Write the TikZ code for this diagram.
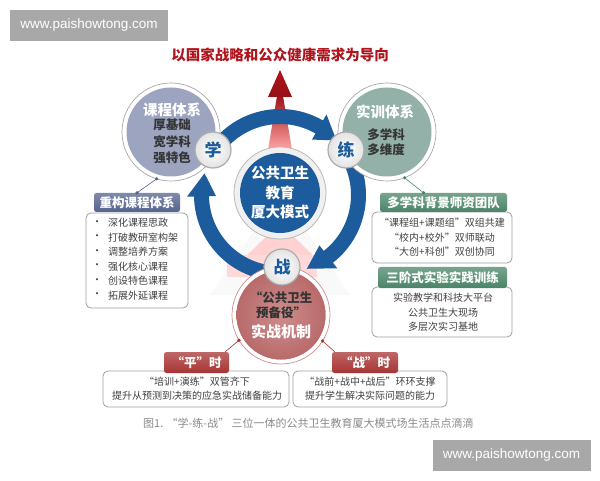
\documentclass[tikz,border=0pt]{standalone}
\usepackage{fontspec}
\setmainfont{Noto Sans CJK SC}
\newfontfamily\wmfont{Liberation Sans}
\definecolor{ringblue}{HTML}{1D5C9C}
\definecolor{titlered}{HTML}{B0141C}
\definecolor{kcfill}{HTML}{9CA4BF}
\definecolor{sxfill}{HTML}{93B1A8}
\definecolor{szfill}{HTML}{C27070}
\definecolor{txtgray}{HTML}{404040}
\definecolor{darktxt}{HTML}{353535}
\definecolor{wmgray}{HTML}{A8A8A8}
\definecolor{capgray}{HTML}{8A8A8A}
\definecolor{tabblue}{HTML}{55648E}
\definecolor{tabgreen}{HTML}{4A8568}
\definecolor{tabred}{HTML}{A83434}
\tikzset{
  wmbox/.style={fill=wmgray, text=white, font=\wmfont\fontsize{13.5}{14}\selectfont, minimum width=158pt, minimum height=31pt, inner sep=0pt},
  outerring/.style={circle, fill=white, draw=#1, line width=0.7pt, minimum size=98pt, inner sep=0pt, outer sep=0pt},
  innerdisc/.style={circle, fill=#1, minimum size=89pt, inner sep=0pt},
  badge/.style={circle, draw=gray!65, line width=1.2pt, inner color=white, outer color=gray!22, minimum size=36pt, inner sep=0pt, text=ringblue, font=\fontsize{17}{17}\selectfont\bfseries},
  wtitle/.style={text=white, font=\fontsize{14.5}{15}\selectfont\bfseries, inner sep=0pt},
  dtxt/.style={text=darktxt, font=\fontsize{12.5}{13}\selectfont\bfseries, inner sep=0pt},
  ctxt/.style={text=white, font=\fontsize{14.5}{15}\selectfont\bfseries, inner sep=0pt},
  tab/.style={rounded corners=2.5pt, top color=#1!75, bottom color=#1, text=white, font=\fontsize{12.5}{13}\selectfont\bfseries, inner sep=0pt},
  cbox/.style={draw=gray!75, line width=0.8pt, rounded corners=5pt, fill=white, inner sep=0pt},
  itm/.style={text=txtgray, font=\fontsize{10}{11}\selectfont, inner sep=0pt},
  dotline/.style={line width=0.6pt, draw=#1},
  tdot/.style={fill=#1},
}
\begin{document}
\begin{tikzpicture}[x=1pt,y=1pt]
\useasboundingbox (0,0) rectangle (600,480);
\fill[white] (0,0) rectangle (600,480);

% watermarks
\node[wmbox] (wm1) at (89,454.5) {www.paishowtong.com};
\node[wmbox] (wm2) at (511.5,25) {www.paishowtong.com};

% title
\node[text=titlered, font=\fontsize{14.5}{15}\selectfont\bfseries, inner sep=0pt] (title) at (280,425) {以国家战略和公众健康需求为导向};

% faint backdrop shapes
\fill[gray!5] (280,287) -- (210,185) -- (350,185) -- cycle;
\fill[red!18!white] (268,245) -- (292,245) -- (320,218) -- (240,218) -- cycle;
\fill[red!15!white] (227,203) rectangle (317,225);

% red arrow
\shade[top color=titlered!90!black, bottom color=red!35!white] (277,384) -- (283,384) -- (292,330) -- (268,330) -- cycle;
\shade[top color=titlered, bottom color=titlered!85!black] (280,410) -- (292,383) -- (268,383) -- cycle;

% blue ring with arrowheads
\begin{scope}[shift={(280,285)}]
\fill[ringblue] (145:86) arc[start angle=145,end angle=60,radius=86] -- (60:93) -- (44:78.5) -- (60:64) -- (60:71) arc[start angle=60,end angle=145,radius=71] -- cycle;
\fill[ringblue] (32:86) arc[start angle=32,end angle=-52,radius=86] -- (-52:93) -- (-70:78.5) -- (-52:64) -- (-52:71) arc[start angle=-52,end angle=32,radius=71] -- cycle;
\fill[ringblue] (268:86) arc[start angle=268,end angle=181,radius=86] -- (181:93) -- (164:78.5) -- (181:64) -- (181:71) arc[start angle=181,end angle=268,radius=71] -- cycle;
\end{scope}

% big circles
\node[outerring=gray!70] (kc) at (171,348) {};
\node[innerdisc=kcfill] (kcin) at (kc) {};
\node[wtitle] (kct) at (172,370) {课程体系};
\node[dtxt] (kc1) at (172,355) {厚基础};
\node[dtxt] (kc2) at (172,338.5) {宽学科};
\node[dtxt] (kc3) at (172,322) {强特色};

\node[outerring=gray!70] (sx) at (387,348) {};
\node[innerdisc=sxfill] (sxin) at (sx) {};
\node[wtitle] (sxt) at (385,368) {实训体系};
\node[dtxt] (sx1) at (386,345) {多学科};
\node[dtxt] (sx2) at (386,330) {多维度};

\node[outerring=szfill!80] (sz) at (281,165) {};
\node[innerdisc=szfill, inner color=szfill!80, outer color=szfill!95!black] (szin) at (sz) {};
\node[dtxt, text=black!80] (sz1) at (281,182) {“公共卫生};
\node[dtxt, text=black!80] (sz2) at (281,167) {预备役”};
\node[wtitle, font=\fontsize{15}{15}\selectfont\bfseries] (sz3) at (281,148) {实战机制};

% centre
\node[circle, fill=gray!12, draw=gray!55, line width=0.8pt, minimum size=92pt, inner sep=0pt] (cen) at (280,287) {};
\node[circle, fill=ringblue, minimum size=80pt, inner sep=0pt] (cenin) at (cen) {};
\node[ctxt] (c1) at (280,307) {公共卫生};
\node[ctxt] (c2) at (280,287.5) {教育};
\node[ctxt] (c3) at (280,268) {厦大模式};

% badges
\node[badge] (xue) at (213,330) {学};
\node[badge] (lian) at (346,330) {练};
\node[badge] (zhan) at (282,213) {战};

% left box
\node[cbox, minimum width=102pt, minimum height=95pt] (lb) at (137,219.5) {};
\node[tab=tabblue, minimum width=86pt, minimum height=19pt] (lt) at (137,277.5) {重构课程体系};
\foreach \t [count=\i] in {深化课程思政,打破教研室构架,调整培养方案,强化核心课程,创设特色课程,拓展外延课程}{
  \node[itm] (lbb\i) at (97,{257-14.5*(\i-1)}) {•};
  \node[itm, anchor=west] (lbi\i) at (108,{257-14.5*(\i-1)}) {\t};
}
\fill[tdot=tabblue] (kc.253) circle (1.8) (lt.north) circle (1.8);
\draw[dotline=tabblue] (kc.253) -- (lt.north);

% right boxes
\node[cbox, minimum width=140pt, minimum height=51pt] (rb1) at (442,242.5) {};
\node[tab=tabgreen, minimum width=127pt, minimum height=19pt] (rt1) at (443.5,277.5) {多学科背景师资团队};
\node[itm] (r11) at (442,257) {“课程组+课题组”双组共建};
\node[itm] (r12) at (442,242) {“校内+校外”双师联动};
\node[itm] (r13) at (442,228) {“大创+科创”双创协同};
\coordinate (rt1top) at ([xshift=-20pt]rt1.north);
\fill[tdot=tabgreen] (sx.291) circle (1.8) (rt1top) circle (1.8);
\draw[dotline=tabgreen] (sx.291) -- (rt1top);

\node[cbox, minimum width=140pt, minimum height=50pt] (rb2) at (442,168) {};
\node[tab=tabgreen, minimum width=129pt, minimum height=21pt] (rt2) at (442.5,202.5) {三阶式实验实践训练};
\node[itm] (r21) at (443,182) {实验教学和科技大平台};
\node[itm] (r22) at (443,167) {公共卫生大现场};
\node[itm] (r23) at (443,153) {多层次实习基地};

% bottom boxes
\node[cbox, minimum width=186pt, minimum height=36pt] (pb) at (196,91) {};
\node[tab=tabred, minimum width=65pt, minimum height=21pt] (pt) at (196.5,117.5) {“平”时};
\node[itm] (p1) at (197,98) {“培训+演练”双管齐下};
\node[itm] (p2) at (197,84) {提升从预测到决策的应急实战储备能力};

\node[cbox, minimum width=154pt, minimum height=36pt] (zb) at (370,91) {};
\node[tab=tabred, minimum width=66pt, minimum height=21pt] (zt) at (365,117.5) {“战”时};
\node[itm] (z1) at (370,98) {“战前+战中+战后”环环支撑};
\node[itm] (z2) at (370,84) {提升学生解决实际问题的能力};

\coordinate (pttop) at ([xshift=-4pt]pt.north east);
\coordinate (zttop) at ([xshift=3pt]zt.north west);
\fill[tdot=tabred] (sz.211) circle (1.8) (sz.328) circle (1.8);
\draw[dotline=tabred] (sz.211) -- (pttop);
\draw[dotline=tabred] (sz.328) -- (zttop);

% caption
\node[anchor=west, text=capgray, font=\fontsize{11}{12}\selectfont, inner sep=0pt] (cap) at (143,57) {图1. “学-练-战” 三位一体的公共卫生教育厦大模式场生活点点滴滴};
\end{tikzpicture}
\end{document}
